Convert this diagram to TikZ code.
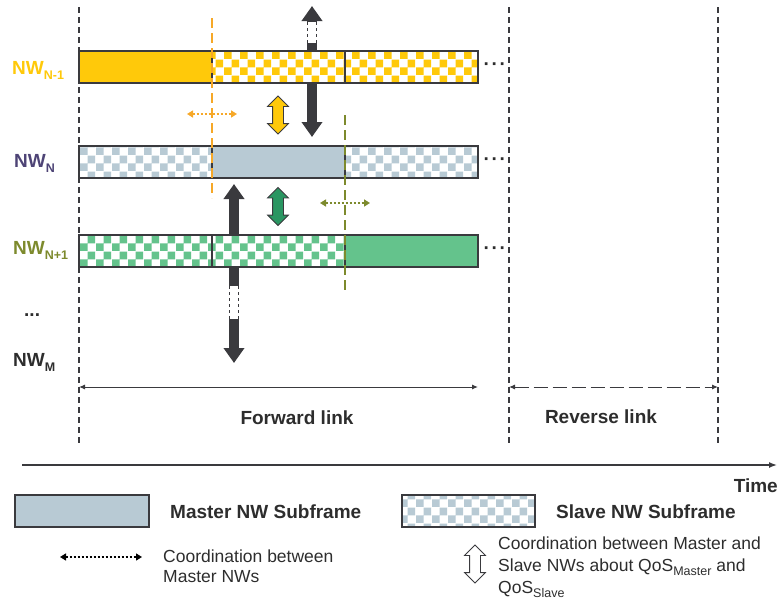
\documentclass[tikz,border=0pt]{standalone}
\usepackage{fontspec}
\setmainfont{Liberation Sans}
\usetikzlibrary{arrows.meta, positioning, shapes.arrows, patterns}

\definecolor{nwyellow}{RGB}{255,201,10}
\definecolor{nworange}{RGB}{246,168,40}
\definecolor{nwblue}{RGB}{184,202,212}
\definecolor{nwgreen}{RGB}{100,195,140}
\definecolor{nwdkgreen}{RGB}{42,150,98}
\definecolor{nwolive}{RGB}{125,138,45}
\definecolor{nwpurple}{RGB}{78,68,118}
\definecolor{nwdark}{RGB}{58,58,62}
\definecolor{nwtext}{RGB}{45,45,45}

\pgfdeclarepatternformonly{checks}{\pgfpointorigin}{\pgfqpoint{16pt}{16pt}}{\pgfqpoint{16pt}{16pt}}{%
  \pgfpathrectangle{\pgfpointorigin}{\pgfqpoint{8pt}{8pt}}%
  \pgfpathrectangle{\pgfqpoint{8pt}{8pt}}{\pgfqpoint{8pt}{8pt}}%
  \pgfusepath{fill}}

\newcommand{\nwsub}[1]{\raisebox{-5pt}{\fontsize{12.5}{12.5}\selectfont #1}}
\newcommand{\qsub}[1]{\raisebox{-4pt}{\fontsize{12.5}{12.5}\selectfont #1}}

\begin{document}
\begin{tikzpicture}[x=1pt, y=-1pt, >=Latex,
    font=\fontsize{17.5}{20}\selectfont, text=nwtext,
    seg/.style={draw=nwdark, line width=1.6pt, minimum width=133pt, minimum height=32pt, inner sep=0pt, outer sep=0pt, anchor=north west},
    solidseg/.style={seg, fill=#1},
    checkseg/.style={seg, preaction={fill=white}, pattern=checks, pattern color=#1},
    lab/.style={font=\fontsize{19}{22}\selectfont\bfseries, inner sep=0pt, anchor=base west},
    boldtxt/.style={font=\fontsize{19}{22}\selectfont\bfseries, inner sep=0pt, anchor=base},
    frame/.style={nwdark, line width=2pt, dash pattern=on 6pt off 4pt},
    darkarrow/.style={nwdark, line width=10pt, {Triangle[length=15pt,width=20pt]}-{Triangle[length=15pt,width=20pt]}},
    blockarrow/.style={double arrow, draw=nwdark, line width=0.8pt, rotate=90, minimum height=38pt, minimum width=20pt, double arrow head extend=5pt, inner xsep=0pt, inner ysep=5pt},
    coord/.style={line width=2pt, dotted, {Triangle[length=6pt,width=7pt]}-{Triangle[length=6pt,width=7pt]}},
    dotsnode/.style={font=\fontsize{19}{22}\selectfont\bfseries, inner sep=0pt}
  ]

  \useasboundingbox (0,0) rectangle (780,603);

  % frame lines of the forward / reverse link
  \draw[frame] (79,7) -- (79,443);
  \draw[frame] (509,7) -- (509,443);
  \draw[frame] (718,7) -- (718,443);

  % slave coordination arrows (behind the bars)
  \coordinate (qtop) at (312,6);
  \coordinate (qbot) at (312,137);
  \draw[darkarrow] (qtop) -- (qbot);
  \coordinate (rtop) at (234,184);
  \coordinate (rbot) at (234,363);
  \draw[darkarrow] (rtop) -- (rbot);

  % NW N-1
  \node[solidseg=nwyellow] (a1) at (79,51) {};
  \node[checkseg=nwyellow, right=0pt of a1] (a2) {};
  \node[checkseg=nwyellow, right=0pt of a2] (a3) {};
  % NW N
  \node[checkseg=nwblue] (b1) at (79,146) {};
  \node[solidseg=nwblue, right=0pt of b1] (b2) {};
  \node[checkseg=nwblue, right=0pt of b2] (b3) {};
  % NW N+1
  \node[checkseg=nwgreen] (c1) at (79,235) {};
  \node[checkseg=nwgreen, right=0pt of c1] (c2) {};
  \node[solidseg=nwgreen, right=0pt of c2] (c3) {};

  \node[dotsnode, right=5.4pt of a3] (da) {·\kern1.7pt·\kern1.7pt·};
  \node[dotsnode, right=5.4pt of b3] (db) {·\kern1.7pt·\kern1.7pt·};
  \node[dotsnode, right=5.4pt of c3] (dc) {·\kern1.7pt·\kern1.7pt·};

  % hollow parts of the arrows
  \fill[white] (306.5,22) rectangle (317.5,43);
  \draw[nwdark, thin, dashed] (307.5,22) -- (307.5,43) (316.5,22) -- (316.5,43);
  \fill[white] (228.5,286) rectangle (239.5,319);
  \draw[nwdark, thin, dashed] (229.5,286) -- (229.5,319) (238.5,286) -- (238.5,319);

  % master boundaries
  \draw[nworange, line width=2pt, dash pattern=on 10pt off 5pt] (212,18) -- (212,198);
  \draw[nwolive, line width=2pt, dash pattern=on 10pt off 5pt] (345,115) -- (345,294);

  \coordinate (oa) at (187,114);
  \coordinate (ob) at (237,114);
  \draw[coord, nworange] (oa) -- (ob);
  \coordinate (ga) at (320,203);
  \coordinate (gb) at (370,203);
  \draw[coord, nwolive] (ga) -- (gb);

  \node[blockarrow, fill=nwyellow] (ya) at (278,115) {};
  \node[blockarrow, fill=nwdkgreen] (gr) at (278,206.5) {};

  % network labels
  \node[lab, text=nwyellow] (lnm1) at (12,74) {NW\nwsub{N-1}};
  \node[lab, text=nwpurple] (ln) at (14,167) {NW\nwsub{N}};
  \node[lab, text=nwolive] (lnp1) at (13,254) {NW\nwsub{N+1}};
  \node[lab] (ldots) at (24,316) {...};
  \node[lab] (lm) at (13,366) {NW\nwsub{M}};

  % links
  \coordinate (fa) at (79,387);
  \coordinate (fb) at (478,387);
  \draw[nwdark, line width=1pt, {Latex[length=6pt,width=5pt]}-{Latex[length=6pt,width=5pt]}] (fa) -- (fb);
  \coordinate (ra) at (509,387);
  \coordinate (rb) at (718,387);
  \draw[nwdark, line width=1pt, dash pattern=on 14pt off 5pt, {Latex[length=6pt,width=5pt]}-{Latex[length=6pt,width=5pt]}] (ra) -- (rb);
  \node[boldtxt] (fl) at (297,424) {Forward link};
  \node[boldtxt] (rl) at (601,423) {Reverse link};

  % time axis
  \coordinate (ta) at (22,465);
  \coordinate (tb) at (777,465);
  \draw[nwdark, line width=1.4pt, -{Latex[length=8pt,width=6pt]}] (ta) -- (tb);
  \node[boldtxt, anchor=base east] (tm) at (778,492) {Time};

  % legend
  \node[solidseg=nwblue, minimum width=134pt] (lg1) at (15,495) {};
  \node[boldtxt, anchor=base west] (lg1t) at (170,518) {Master NW Subframe};
  \node[checkseg=nwblue] (lg2) at (402,495) {};
  \node[boldtxt, anchor=base west] (lg2t) at (556,518) {Slave NW Subframe};

  \coordinate (la) at (60,557);
  \coordinate (lb) at (142,557);
  \draw[coord, black, line width=1.4pt] (la) -- (lb);
  \node[anchor=north west, inner sep=0pt, align=left] (lct) at (163,550) {Coordination between\\Master NWs};

  \node[blockarrow, fill=white] (lh) at (475,564) {};
  \node[anchor=north west, inner sep=0pt, align=left, font=\fontsize{17.5}{22}\selectfont] (lht) at (498,537)
    {Coordination between Master and\\Slave NWs about QoS\qsub{Master} and\\QoS\qsub{Slave}};

\end{tikzpicture}
\end{document}
